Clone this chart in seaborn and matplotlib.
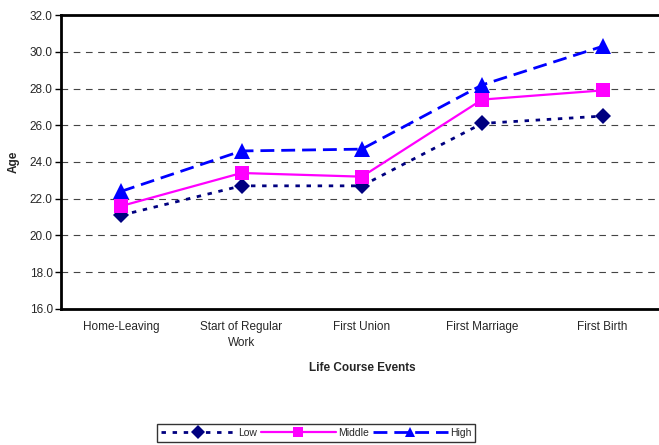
import matplotlib
matplotlib.use("Agg")
import matplotlib.pyplot as plt
import seaborn as sns
import pandas as pd

events = ["Home-Leaving", "Start of Regular\nWork", "First Union", "First Marriage", "First Birth"]
low = [21.1, 22.7, 22.7, 26.1, 26.5]
middle = [21.6, 23.4, 23.2, 27.4, 27.9]
high = [22.4, 24.6, 24.7, 28.2, 30.3]
groups = ["Low", "Middle", "High"]
yticks = [16, 18, 20, 22, 24, 26, 28, 30, 32]

sns.set_theme(style="white")
plt.rcParams['font.family'] = ['Liberation Sans', 'DejaVu Sans']

rows = []
for g, vals in zip(groups, [low, middle, high]):
    for e, v in zip(events, vals):
        rows.append({"Event": e, "Age": v, "Group": g})
df = pd.DataFrame(rows)

fig = plt.figure(figsize=(6.59, 4.45), dpi=100)
ax = fig.add_axes([0.0926, 0.306, 0.913, 0.660])

palette = {"Low": "#000080", "Middle": "#FF00FF", "High": "#0000FF"}
markers = {"Low": "D", "Middle": "s", "High": "^"}
dashes = {"Low": (1.6, 2.4), "Middle": "", "High": (5, 2.5)}
msize = {"D": 8.5, "s": 10, "^": 11}

sns.lineplot(data=df, x="Event", y="Age", hue="Group", style="Group",
             palette=palette, markers=markers, dashes=dashes,
             hue_order=groups, style_order=groups, sort=False,
             markersize=9, markeredgewidth=0, linewidth=2, ax=ax, legend=True)
for line in ax.get_lines():
    m = line.get_marker()
    if m in msize:
        line.set_markersize(msize[m])
    if line.get_color().lower() == "#ff00ff":
        line.set_linewidth(1.6)

ax.set_xlim(-0.5, 4.5)
ax.set_ylim(16, 32)
ax.set_yticks(yticks)
ax.set_yticklabels([f"{t:.1f}" for t in yticks], fontsize=8.5)
ax.set_xticks(range(len(events)))
ax.set_xticklabels(events, fontsize=8.5, linespacing=1.45)
ax.set_xticks([i + 0.5 for i in range(len(events) - 1)], minor=True)
ax.tick_params(axis='x', which='major', length=0, pad=9)
ax.tick_params(axis='x', which='minor', length=4, width=1, color='black', direction='out')
ax.tick_params(axis='y', length=4, width=1, color='black', direction='out', left=True, pad=2)
for y in yticks[1:-1]:
    ax.axhline(y, color='#444444', lw=0.8, ls=(0, (6, 5)), zorder=0)
for s in ax.spines.values():
    s.set_color('black')
    s.set_linewidth(2)
ax.set_xlabel("Life Course Events", fontsize=8.5, fontweight='bold', labelpad=9)
ax.set_ylabel("Age", fontsize=8.5, fontweight='bold', labelpad=7)

handles, labels = ax.get_legend_handles_labels()
ax.legend_.remove()
for h in handles:
    h.set_markersize(7)
leg = fig.legend(handles, labels, loc='center', bbox_to_anchor=(316/659, 1 - 433/445),
                 ncol=3, fontsize=7.5, frameon=True, fancybox=False, handlelength=7.2,
                 handletextpad=0.2, columnspacing=0.4, borderpad=0.35)
leg.get_frame().set_edgecolor('black')
leg.get_frame().set_linewidth(1)

fig.savefig("out.png", dpi=100)
